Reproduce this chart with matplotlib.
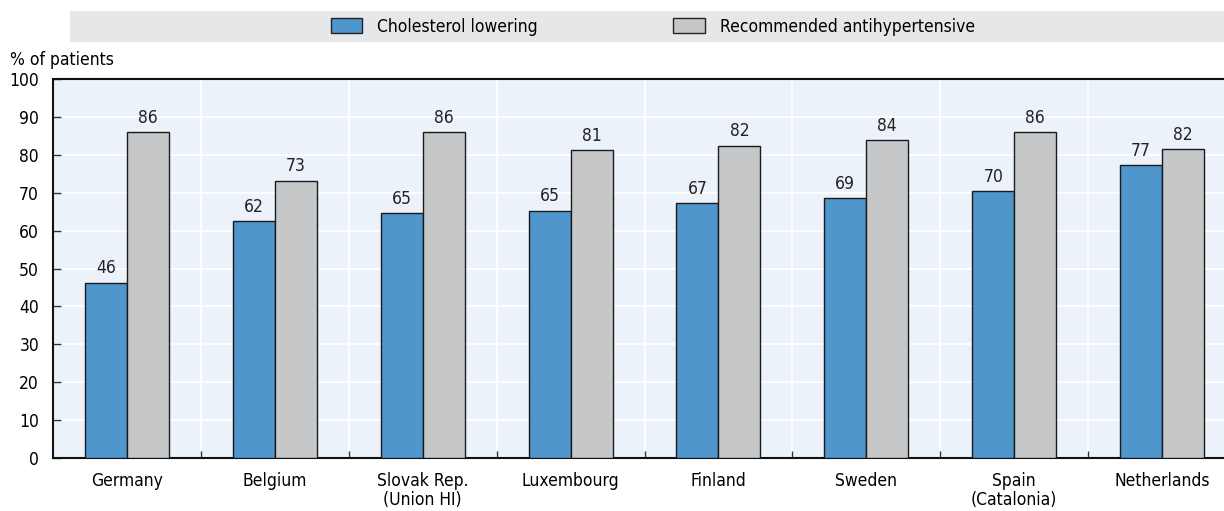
import numpy as np
from matplotlib import pyplot as plt
from matplotlib.patches import Rectangle, Patch

plt.rcParams['font.family'] = ['DejaVu Sans']
plt.rcParams['font.stretch'] = 'condensed'
plt.rcParams['font.size'] = 12.5

countries = ["Germany", "Belgium", "Slovak Rep.\n(Union HI)", "Luxembourg",
             "Finland", "Sweden", "Spain\n(Catalonia)", "Netherlands"]
cholesterol = [46.3, 62.5, 64.6, 65.3, 67.2, 68.6, 70.4, 77.2]
antihyper = [86.0, 73.2, 86.0, 81.3, 82.4, 83.9, 86.0, 81.5]

BLUE = "#4F96CC"
GREY = "#C6C7C9"
BG = "#EBF2FA"

fig = plt.figure(figsize=(12.24, 5.11), dpi=100)
ax = fig.add_axes([53 / 1224, 1 - 458 / 511, 1183 / 1224, 379 / 511])
ax.set_facecolor(BG)

x = np.arange(len(countries))
w = 0.284
b1 = ax.bar(x - w / 2, cholesterol, w, color=BLUE, edgecolor="#1a1a1a", linewidth=1, zorder=3)
b2 = ax.bar(x + w / 2, antihyper, w, color=GREY, edgecolor="#1a1a1a", linewidth=1, zorder=3)

for bars, vals in ((b1, cholesterol), (b2, antihyper)):
    for r, v in zip(bars, vals):
        ax.text(r.get_x() + r.get_width() / 2, v + 1.4, f"{v:.0f}",
                ha="center", va="bottom", color="#222222", zorder=4)

ax.set_xlim(-0.5, len(countries) - 0.5)
ax.set_ylim(0, 100)
ax.set_yticks(range(0, 101, 10))
ax.set_xticks(x)
ax.set_xticklabels(countries, linespacing=1.05)
ax.set_xticks(x[:-1] + 0.5, minor=True)
ax.tick_params(axis="x", which="major", length=0, pad=10)
ax.tick_params(axis="x", which="minor", direction="in", length=5, width=1, color="#333333")
ax.tick_params(axis="y", direction="in", length=6, width=1, color="#333333", pad=10)
ax.grid(axis="y", color="white", linewidth=1.3, zorder=1)
ax.grid(axis="x", which="minor", color="white", linewidth=1.3, zorder=1)

for s in ("left", "top", "bottom"):
    ax.spines[s].set_linewidth(1.5)
    ax.spines[s].set_color("#111111")
ax.spines["right"].set_visible(False)
ax.set_axisbelow(True)

fig.text(10 / 1224, 1 - 60 / 511, "% of patients", ha="left", va="center")

# legend band
fig.patches.append(Rectangle((70 / 1224, 1 - 42 / 511), 1 - 70 / 1224, 31 / 511,
                             transform=fig.transFigure, facecolor="#E6E7E9",
                             edgecolor="none", zorder=0))
handles = [Patch(facecolor=BLUE, edgecolor="#222222", linewidth=1, label="Cholesterol lowering"),
           Patch(facecolor=GREY, edgecolor="#222222", linewidth=1, label="Recommended antihypertensive")]
fig.legend(handles=handles, loc="center", bbox_to_anchor=(653 / 1224, 1 - 26.5 / 511),
           ncol=2, frameon=False, handlelength=1.8, handleheight=1.0,
           columnspacing=7.8, handletextpad=0.9)

fig.savefig("out.png", dpi=100)
